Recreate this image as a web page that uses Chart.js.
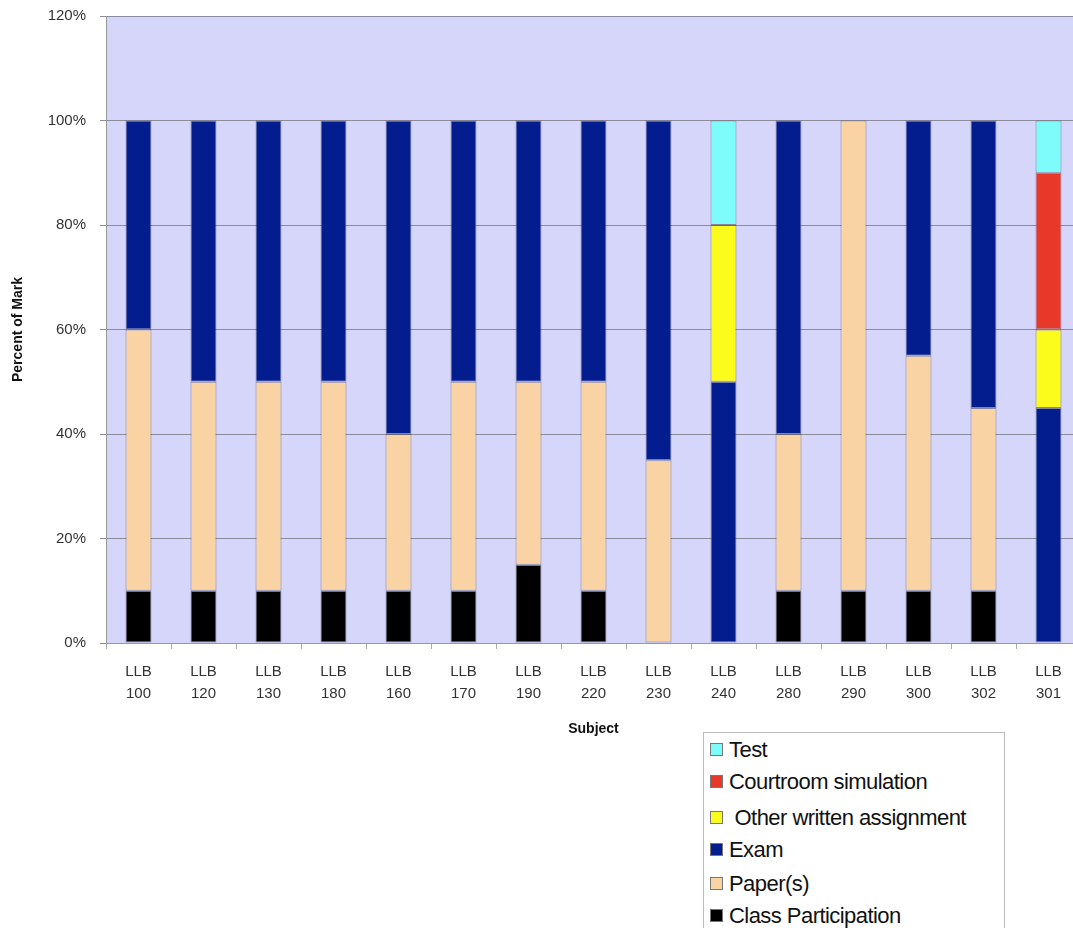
<!DOCTYPE html>
<html>
<head>
<meta charset="utf-8">
<script src="https://cdn.jsdelivr.net/npm/chart.js@4"></script>
<style>
  html, body { margin: 0; padding: 0; background: #fff; overflow: hidden; width: 1073px; height: 928px; }
  #wrap { position: absolute; left: 0; top: 0; }
  #legend {
    position: absolute; left: 703px; top: 732px; width: 300px; height: 220px;
    border: 1px solid #bbb; background: #fff;
    font-family: "Liberation Sans", Arial, sans-serif; font-size: 22px; color: #111;
    letter-spacing: -0.55px;
  }
  .item { position: absolute; left: 6px; height: 24px; line-height: 24px; white-space: nowrap; }
  .sw { display: inline-block; width: 11px; height: 11px; border: 1px solid #777; margin-right: 6px; vertical-align: 1px; }
</style>
</head>
<body>
<div id="wrap"><canvas id="chart" width="1085" height="742"></canvas></div>
<div id="legend"></div>
<script>
const subjects = [
    ['LLB', '100'], ['LLB', '120'], ['LLB', '130'], ['LLB', '180'], ['LLB', '160'],
    ['LLB', '170'], ['LLB', '190'], ['LLB', '220'], ['LLB', '230'], ['LLB', '240'],
    ['LLB', '280'], ['LLB', '290'], ['LLB', '300'], ['LLB', '302'], ['LLB', '301']
];

const classParticipation = [10, 10, 10, 10, 10, 10, 15, 10, 0, 0, 10, 10, 10, 10, 0];
const papers             = [50, 40, 40, 40, 30, 40, 35, 40, 35, 0, 30, 90, 45, 35, 0];
const exam               = [40, 50, 50, 50, 60, 50, 50, 50, 65, 50, 60, 0, 45, 55, 45];
const otherWritten       = [0, 0, 0, 0, 0, 0, 0, 0, 0, 30, 0, 0, 0, 0, 15];
const courtroom          = [0, 0, 0, 0, 0, 0, 0, 0, 0, 0, 0, 0, 0, 0, 30];
const test               = [0, 0, 0, 0, 0, 0, 0, 0, 0, 20, 0, 0, 0, 0, 10];

const yTicks = [0, 20, 40, 60, 80, 100, 120];

const seriesNames = ['Class Participation', 'Paper(s)', 'Exam', ' Other written assignment', 'Courtroom simulation', 'Test'];
const seriesColors = ['#000000', '#f9d3a3', '#031c8e', '#fbfb1c', '#e8382a', '#7efcfc'];
const seriesData = [classParticipation, papers, exam, otherWritten, courtroom, test];

// plot background
const plotBackground = {
    id: 'plotBackground',
    beforeDraw(chart) {
        const { ctx, chartArea } = chart;
        ctx.save();
        ctx.fillStyle = '#d6d6fb';
        ctx.fillRect(chartArea.left, chartArea.top, chartArea.right - chartArea.left, chartArea.bottom - chartArea.top);
        ctx.restore();
    }
};

const chart = new Chart(document.getElementById('chart'), {
    type: 'bar',
    data: {
        labels: subjects,
        datasets: seriesNames.map((name, i) => ({
            label: name,
            data: seriesData[i],
            backgroundColor: seriesColors[i],
            borderColor: 'rgba(70,70,90,0.55)',
            borderWidth: ctx => (ctx.raw ? 1 : 0),
            borderSkipped: false,
            categoryPercentage: 1,
            barPercentage: 0.4
        }))
    },
    options: {
        responsive: false,
        animation: false,
        layout: { padding: { top: 16, right: 4, left: 0, bottom: 0 } },
        plugins: {
            legend: { display: false },
            tooltip: { enabled: false }
        },
        scales: {
            x: {
                stacked: true,
                grid: { drawOnChartArea: false, drawTicks: true, tickLength: 6, color: '#aaa' },
                border: { color: '#999' },
                ticks: {
                    color: '#333',
                    font: { family: '"Liberation Sans", Arial, sans-serif', size: 15, lineHeight: 1.45 },
                    padding: 12,
                    maxRotation: 0
                },
                title: {
                    display: true,
                    text: 'Subject',
                    color: '#111',
                    font: { family: '"Liberation Sans", Arial, sans-serif', size: 14, weight: 'bold' },
                    padding: { top: 4, bottom: 4 }
                },
                afterFit(scale) { scale.height = 99; }
            },
            y: {
                stacked: true,
                min: 0,
                max: 120,
                afterBuildTicks(scale) { scale.ticks = yTicks.map(v => ({ value: v })); },
                grid: { color: '#8c8c9c', tickLength: 6, lineWidth: 1 },
                border: { color: '#999' },
                ticks: {
                    color: '#333',
                    font: { family: '"Liberation Sans", Arial, sans-serif', size: 15 },
                    padding: 14,
                    callback: v => v + '%'
                },
                title: {
                    display: true,
                    text: 'Percent of Mark',
                    color: '#111',
                    font: { family: '"Liberation Sans", Arial, sans-serif', size: 14, weight: 'bold' },
                    padding: { top: 10, bottom: 4 }
                },
                afterFit(scale) {
                    scale.width = 106;
                    scale.paddingTop = 0;
                }
            }
        }
    },
    plugins: [plotBackground]
});

// legend built from the chart datasets, reversed like the original
const legendTops = [5, 37, 73, 105, 139, 171];
const legendDiv = document.getElementById('legend');
chart.data.datasets.slice().reverse().forEach((ds, i) => {
    const item = document.createElement('div');
    item.className = 'item';
    item.style.top = legendTops[i] + 'px';
    item.innerHTML = '<span class="sw" style="background:' + ds.backgroundColor + '"></span>' + ds.label.replace(/ /g, '&nbsp;');
    legendDiv.appendChild(item);
});
</script>
</body>
</html>
